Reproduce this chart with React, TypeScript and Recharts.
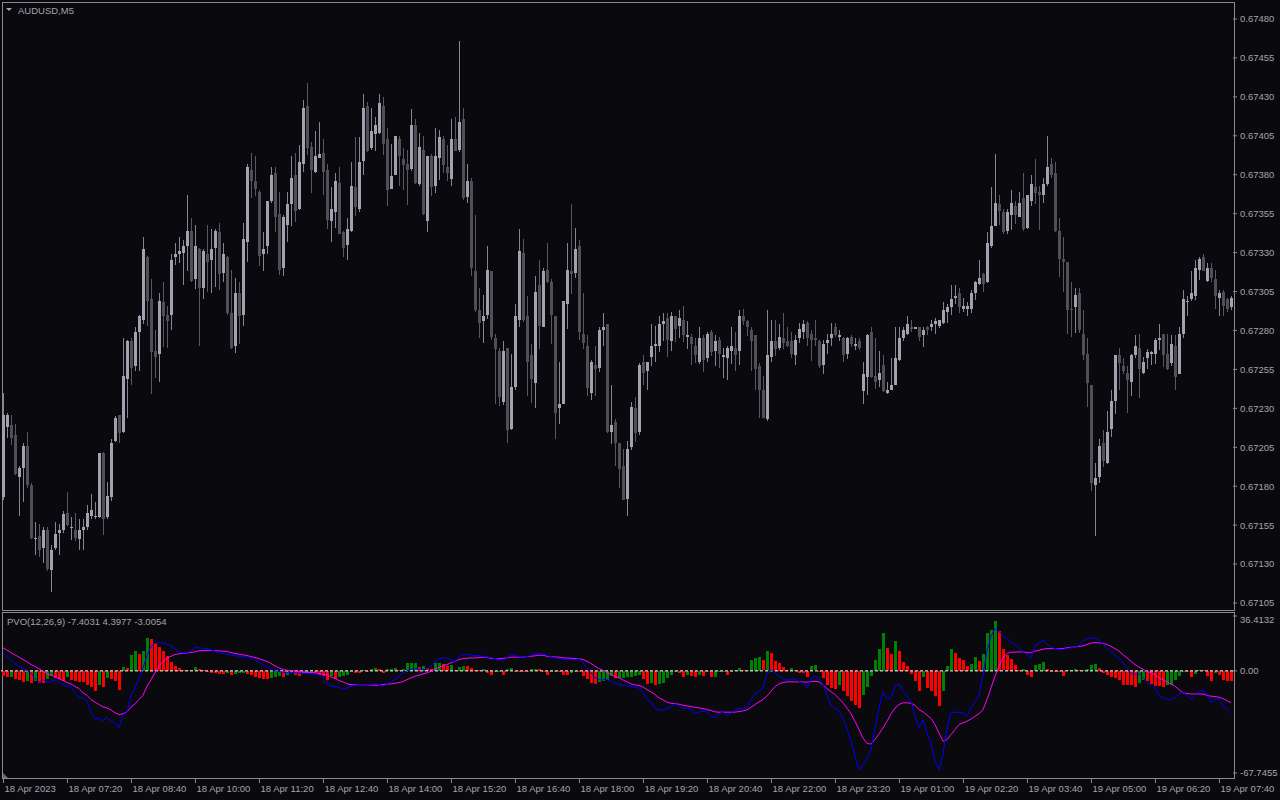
import React from "react";
import { ComposedChart, Bar, Line, XAxis, YAxis, ReferenceLine } from "recharts";

// AUDUSD M5 candles, one entry per bar
const open = [
  0.67173,0.67218,0.67219,0.67213,0.67186,0.67192,0.67206,0.67181,0.67146,0.67148,0.67140,0.67152,0.67126,0.67140,0.67150,0.67152,
  0.67163,0.67153,0.67152,0.67146,0.67152,0.67154,0.67161,0.67160,0.67160,0.67201,0.67160,0.67173,0.67209,0.67226,0.67215,0.67249,
  0.67273,0.67257,0.67279,0.67287,0.67327,0.67300,0.67267,0.67265,0.67298,0.67290,0.67290,0.67327,0.67329,0.67330,0.67334,0.67344,
  0.67313,0.67332,0.67307,0.67329,0.67325,0.67333,0.67343,0.67317,0.67327,0.67291,0.67270,0.67304,0.67290,0.67337,0.67383,0.67376,
  0.67369,0.67329,0.67334,0.67363,0.67381,0.67355,0.67320,0.67348,0.67361,0.67380,0.67358,0.67387,0.67424,0.67398,0.67382,0.67391,
  0.67394,0.67383,0.67350,0.67356,0.67375,0.67343,0.67335,0.67344,0.67372,0.67358,0.67389,0.67424,0.67397,0.67406,0.67407,0.67424,
  0.67403,0.67371,0.67380,0.67403,0.67390,0.67387,0.67384,0.67412,0.67374,0.67396,0.67350,0.67392,0.67373,0.67391,0.67403,0.67385,
  0.67377,0.67403,0.67396,0.67416,0.67366,0.67376,0.67318,0.67293,0.67286,0.67290,0.67318,0.67275,0.67267,0.67234,0.67269,0.67217,
  0.67244,0.67287,0.67330,0.67289,0.67264,0.67246,0.67309,0.67282,0.67319,0.67311,0.67289,0.67230,0.67233,0.67297,0.67318,0.67317,
  0.67334,0.67278,0.67270,0.67240,0.67258,0.67256,0.67280,0.67284,0.67215,0.67221,0.67208,0.67193,0.67172,0.67205,0.67230,0.67215,
  0.67260,0.67254,0.67263,0.67270,0.67270,0.67284,0.67288,0.67273,0.67289,0.67283,0.67287,0.67276,0.67276,0.67270,0.67260,0.67275,
  0.67262,0.67279,0.67267,0.67274,0.67263,0.67262,0.67267,0.67269,0.67267,0.67289,0.67286,0.67280,0.67277,0.67257,0.67242,0.67223,
  0.67263,0.67273,0.67269,0.67275,0.67273,0.67273,0.67264,0.67275,0.67279,0.67285,0.67278,0.67275,0.67273,0.67258,0.67272,0.67275,
  0.67282,0.67276,0.67275,0.67265,0.67276,0.67270,0.67273,0.67241,0.67250,0.67279,0.67251,0.67248,0.67258,0.67240,0.67242,0.67245,
  0.67261,0.67275,0.67278,0.67282,0.67281,0.67282,0.67277,0.67282,0.67282,0.67284,0.67283,0.67285,0.67292,0.67295,0.67301,0.67304,
  0.67294,0.67294,0.67294,0.67304,0.67310,0.67316,0.67311,0.67334,0.67347,0.67361,0.67356,0.67344,0.67354,0.67360,0.67353,0.67365,
  0.67346,0.67363,0.67372,0.67369,0.67367,0.67374,0.67387,0.67381,0.67344,0.67326,0.67324,0.67294,0.67295,0.67304,0.67278,0.67265,
  0.67245,0.67181,0.67186,0.67208,0.67195,0.67217,0.67235,0.67264,0.67257,0.67253,0.67247,0.67264,0.67269,0.67253,0.67262,0.67265,
  0.67265,0.67274,0.67278,0.67265,0.67259,0.67270,0.67252,0.67278,0.67298,0.67300,0.67302,0.67319,0.67327,0.67312,0.67320,0.67313,
  0.67301,0.67305,0.67300,0.67295,
];
const high = [
  0.67240,0.67227,0.67226,0.67220,0.67193,0.67208,0.67215,0.67182,0.67157,0.67156,0.67154,0.67154,0.67142,0.67157,0.67156,0.67164,
  0.67176,0.67160,0.67163,0.67159,0.67159,0.67168,0.67175,0.67170,0.67201,0.67202,0.67183,0.67210,0.67225,0.67226,0.67275,0.67274,
  0.67275,0.67282,0.67290,0.67340,0.67328,0.67313,0.67280,0.67304,0.67311,0.67296,0.67329,0.67336,0.67340,0.67338,0.67367,0.67352,
  0.67348,0.67333,0.67332,0.67348,0.67345,0.67345,0.67349,0.67336,0.67328,0.67319,0.67314,0.67311,0.67349,0.67387,0.67394,0.67392,
  0.67370,0.67343,0.67363,0.67385,0.67385,0.67369,0.67354,0.67369,0.67392,0.67394,0.67399,0.67428,0.67439,0.67401,0.67408,0.67414,
  0.67403,0.67387,0.67372,0.67381,0.67385,0.67344,0.67352,0.67388,0.67404,0.67404,0.67432,0.67427,0.67423,0.67417,0.67432,0.67430,
  0.67410,0.67400,0.67405,0.67405,0.67397,0.67396,0.67422,0.67416,0.67407,0.67405,0.67392,0.67393,0.67410,0.67409,0.67405,0.67399,
  0.67416,0.67417,0.67466,0.67423,0.67387,0.67378,0.67354,0.67307,0.67303,0.67334,0.67318,0.67278,0.67269,0.67273,0.67269,0.67265,
  0.67297,0.67345,0.67339,0.67302,0.67271,0.67315,0.67325,0.67320,0.67336,0.67313,0.67289,0.67260,0.67299,0.67336,0.67361,0.67346,
  0.67338,0.67304,0.67277,0.67261,0.67270,0.67282,0.67291,0.67284,0.67245,0.67223,0.67208,0.67204,0.67209,0.67234,0.67237,0.67259,
  0.67264,0.67260,0.67284,0.67283,0.67289,0.67291,0.67291,0.67292,0.67289,0.67293,0.67296,0.67286,0.67278,0.67275,0.67282,0.67277,
  0.67279,0.67280,0.67277,0.67276,0.67269,0.67270,0.67282,0.67279,0.67293,0.67294,0.67287,0.67282,0.67277,0.67259,0.67251,0.67293,
  0.67287,0.67287,0.67284,0.67291,0.67282,0.67279,0.67277,0.67285,0.67287,0.67286,0.67280,0.67287,0.67274,0.67274,0.67278,0.67285,
  0.67285,0.67280,0.67276,0.67276,0.67277,0.67275,0.67275,0.67260,0.67278,0.67282,0.67275,0.67267,0.67264,0.67247,0.67262,0.67282,
  0.67282,0.67282,0.67289,0.67287,0.67282,0.67282,0.67282,0.67283,0.67287,0.67288,0.67287,0.67298,0.67297,0.67309,0.67309,0.67307,
  0.67301,0.67298,0.67306,0.67312,0.67325,0.67317,0.67343,0.67372,0.67393,0.67367,0.67358,0.67358,0.67370,0.67363,0.67369,0.67381,
  0.67367,0.67380,0.67390,0.67373,0.67378,0.67405,0.67391,0.67388,0.67352,0.67340,0.67324,0.67311,0.67307,0.67307,0.67293,0.67275,
  0.67245,0.67195,0.67210,0.67216,0.67228,0.67242,0.67264,0.67269,0.67262,0.67257,0.67265,0.67277,0.67278,0.67263,0.67268,0.67267,
  0.67275,0.67284,0.67278,0.67278,0.67277,0.67277,0.67282,0.67306,0.67302,0.67318,0.67325,0.67327,0.67329,0.67323,0.67323,0.67319,
  0.67306,0.67306,0.67301,0.67302,
];
const low = [
  0.67171,0.67211,0.67207,0.67187,0.67161,0.67170,0.67179,0.67146,0.67136,0.67135,0.67131,0.67126,0.67112,0.67139,0.67136,0.67150,
  0.67154,0.67145,0.67145,0.67139,0.67139,0.67152,0.67159,0.67159,0.67159,0.67149,0.67159,0.67170,0.67208,0.67208,0.67214,0.67224,
  0.67245,0.67254,0.67254,0.67284,0.67283,0.67239,0.67249,0.67247,0.67269,0.67269,0.67280,0.67322,0.67323,0.67309,0.67318,0.67311,
  0.67307,0.67270,0.67300,0.67305,0.67304,0.67308,0.67306,0.67311,0.67290,0.67268,0.67266,0.67271,0.67283,0.67324,0.67365,0.67366,
  0.67321,0.67318,0.67329,0.67362,0.67343,0.67316,0.67315,0.67337,0.67347,0.67350,0.67357,0.67382,0.67393,0.67368,0.67381,0.67391,
  0.67367,0.67345,0.67337,0.67346,0.67342,0.67327,0.67325,0.67343,0.67353,0.67356,0.67380,0.67395,0.67396,0.67395,0.67406,0.67393,
  0.67360,0.67371,0.67380,0.67373,0.67370,0.67361,0.67382,0.67374,0.67373,0.67354,0.67343,0.67366,0.67368,0.67377,0.67381,0.67376,
  0.67373,0.67395,0.67395,0.67364,0.67362,0.67315,0.67292,0.67275,0.67272,0.67287,0.67274,0.67233,0.67232,0.67232,0.67208,0.67216,
  0.67242,0.67282,0.67286,0.67238,0.67233,0.67230,0.67268,0.67282,0.67310,0.67271,0.67210,0.67220,0.67233,0.67281,0.67303,0.67314,
  0.67274,0.67268,0.67238,0.67235,0.67238,0.67253,0.67270,0.67214,0.67207,0.67193,0.67179,0.67171,0.67161,0.67203,0.67208,0.67213,
  0.67245,0.67242,0.67257,0.67260,0.67266,0.67273,0.67263,0.67267,0.67272,0.67275,0.67273,0.67268,0.67258,0.67259,0.67258,0.67253,
  0.67260,0.67263,0.67257,0.67256,0.67250,0.67248,0.67258,0.67254,0.67258,0.67284,0.67277,0.67254,0.67242,0.67224,0.67224,0.67222,
  0.67260,0.67264,0.67267,0.67268,0.67269,0.67262,0.67258,0.67272,0.67275,0.67270,0.67260,0.67270,0.67256,0.67252,0.67265,0.67270,
  0.67276,0.67273,0.67260,0.67262,0.67269,0.67267,0.67267,0.67233,0.67239,0.67249,0.67242,0.67244,0.67240,0.67239,0.67242,0.67245,
  0.67260,0.67273,0.67277,0.67279,0.67281,0.67273,0.67269,0.67277,0.67280,0.67278,0.67282,0.67284,0.67285,0.67290,0.67297,0.67291,
  0.67292,0.67289,0.67291,0.67300,0.67309,0.67305,0.67310,0.67333,0.67347,0.67348,0.67342,0.67342,0.67344,0.67348,0.67353,0.67344,
  0.67345,0.67360,0.67361,0.67345,0.67362,0.67373,0.67378,0.67343,0.67314,0.67305,0.67278,0.67276,0.67278,0.67278,0.67261,0.67231,
  0.67177,0.67148,0.67182,0.67192,0.67194,0.67212,0.67226,0.67242,0.67252,0.67227,0.67238,0.67262,0.67237,0.67252,0.67255,0.67258,
  0.67258,0.67267,0.67257,0.67255,0.67257,0.67242,0.67252,0.67275,0.67289,0.67299,0.67299,0.67312,0.67318,0.67311,0.67311,0.67294,
  0.67289,0.67289,0.67292,0.67293,
];
const close = [
  0.67226,0.67226,0.67211,0.67188,0.67192,0.67206,0.67181,0.67147,0.67147,0.67139,0.67152,0.67127,0.67139,0.67149,0.67152,0.67162,
  0.67155,0.67154,0.67147,0.67152,0.67154,0.67163,0.67165,0.67161,0.67201,0.67159,0.67174,0.67208,0.67224,0.67214,0.67251,0.67273,
  0.67256,0.67279,0.67289,0.67332,0.67299,0.67266,0.67263,0.67299,0.67289,0.67286,0.67325,0.67329,0.67331,0.67334,0.67344,0.67312,
  0.67334,0.67307,0.67331,0.67324,0.67332,0.67344,0.67316,0.67329,0.67291,0.67269,0.67304,0.67289,0.67339,0.67385,0.67376,0.67371,
  0.67328,0.67332,0.67363,0.67380,0.67353,0.67319,0.67353,0.67361,0.67378,0.67357,0.67388,0.67423,0.67397,0.67383,0.67392,0.67393,
  0.67382,0.67351,0.67358,0.67376,0.67342,0.67333,0.67345,0.67373,0.67359,0.67388,0.67423,0.67395,0.67408,0.67412,0.67426,0.67400,
  0.67370,0.67379,0.67405,0.67392,0.67386,0.67383,0.67412,0.67375,0.67398,0.67355,0.67392,0.67372,0.67392,0.67404,0.67386,0.67381,
  0.67403,0.67395,0.67414,0.67365,0.67376,0.67320,0.67293,0.67285,0.67289,0.67319,0.67276,0.67268,0.67237,0.67267,0.67216,0.67244,
  0.67289,0.67331,0.67287,0.67260,0.67249,0.67305,0.67283,0.67318,0.67311,0.67290,0.67227,0.67233,0.67299,0.67319,0.67316,0.67332,
  0.67279,0.67272,0.67243,0.67260,0.67255,0.67280,0.67282,0.67215,0.67219,0.67208,0.67191,0.67171,0.67204,0.67231,0.67214,0.67258,
  0.67253,0.67260,0.67270,0.67271,0.67284,0.67286,0.67274,0.67289,0.67281,0.67288,0.67277,0.67277,0.67271,0.67264,0.67275,0.67261,
  0.67278,0.67266,0.67273,0.67265,0.67264,0.67269,0.67270,0.67264,0.67289,0.67286,0.67282,0.67273,0.67255,0.67242,0.67224,0.67264,
  0.67273,0.67268,0.67276,0.67272,0.67270,0.67265,0.67274,0.67281,0.67284,0.67275,0.67274,0.67274,0.67257,0.67271,0.67274,0.67278,
  0.67277,0.67277,0.67264,0.67275,0.67271,0.67271,0.67269,0.67252,0.67277,0.67250,0.67247,0.67253,0.67241,0.67242,0.67245,0.67262,
  0.67275,0.67280,0.67284,0.67281,0.67282,0.67276,0.67280,0.67280,0.67284,0.67286,0.67287,0.67293,0.67295,0.67300,0.67302,0.67295,
  0.67296,0.67296,0.67304,0.67311,0.67314,0.67310,0.67336,0.67347,0.67362,0.67357,0.67343,0.67356,0.67362,0.67354,0.67362,0.67345,
  0.67367,0.67374,0.67368,0.67367,0.67374,0.67385,0.67380,0.67344,0.67326,0.67324,0.67293,0.67293,0.67303,0.67280,0.67264,0.67246,
  0.67182,0.67185,0.67206,0.67196,0.67215,0.67235,0.67264,0.67259,0.67254,0.67248,0.67264,0.67270,0.67255,0.67260,0.67266,0.67266,
  0.67274,0.67275,0.67264,0.67255,0.67271,0.67250,0.67278,0.67300,0.67299,0.67304,0.67320,0.67326,0.67318,0.67320,0.67314,0.67302,
  0.67304,0.67296,0.67294,0.67301,
];

// PVO(12,26,9): histogram, main line, signal line
const hist = [
  -3.6,-4.1,-3.8,-5.4,-6.1,-7.2,-6.8,-7.9,-6.9,-7.8,-8.1,-5.4,-3.6,-4.4,-5.3,-6.5,
  -3.8,-5.7,-6.8,-7.2,-7.5,-9.0,-10.4,-13.5,-9.4,-10.8,-4.6,-5.3,-6.4,-12.4,2.4,2.0,
  10.8,13.5,11.4,13.2,22.1,21.3,18.8,15.9,13.3,9.9,6.0,3.3,2.2,0.6,0.9,0.3,
  2.4,1.5,0.8,0.0,-1.1,-1.5,-1.8,-2.2,-1.5,-2.6,-2.2,-1.5,-1.1,-1.8,-2.9,-4.0,
  -4.9,-5.1,-5.3,-4.6,-3.8,-3.5,-4.0,-2.4,-1.5,-2.4,-3.1,-2.0,-1.3,0.7,-1.3,-2.4,
  -3.3,-5.8,-3.5,-5.5,-4.2,-3.5,-2.4,-0.9,-1.0,-1.2,0.6,0.0,1.1,2.2,1.1,-1.1,
  1.0,1.5,1.8,0.9,1.2,5.3,5.4,5.5,2.4,3.1,2.0,1.3,5.3,5.4,4.6,3.5,
  3.8,0.3,2.6,3.5,3.3,2.0,0.9,0.6,1.3,-1.3,-2.4,-0.9,-0.6,-2.4,1.3,2.0,
  0.2,0.0,-0.2,-0.3,1.3,1.4,1.3,-0.7,-2.4,-0.3,0.0,-0.7,-2.4,-2.5,-1.3,-0.2,
  -0.3,-3.1,-5.3,-8.0,-8.6,-7.3,-6.4,-6.0,-3.5,-4.6,-4.5,-4.4,-4.3,-4.0,-3.5,-2.4,
  -5.1,-8.6,-8.0,-9.1,-8.6,-8.0,-4.6,-2.4,-0.3,-1.3,-4.2,-2.4,-3.5,-4.0,-2.4,-3.5,
  -0.4,-4.2,-4.0,-0.9,-0.2,-2.4,-0.3,0.7,2.0,0.7,0.9,7.5,8.6,9.3,6.9,13.5,
  11.9,6.4,5.3,2.4,0.9,2.0,0.4,-1.3,-1.4,-4.2,3.5,3.6,-0.2,-4.6,-9.1,-11.5,
  -11.9,-9.6,-13.5,-16.8,-20.1,-22.3,-24.6,-16.2,-10.8,-3.5,7.5,14.8,25.2,15.3,11.3,19.7,
  13.5,5.8,3.5,-1.8,-6.4,-13.1,-4.2,-11.3,-13.5,-16.8,-23.0,-13.5,3.5,14.2,11.9,8.6,
  7.5,3.1,4.6,9.1,6.4,11.3,25.2,27.4,33.4,26.3,14.2,10.8,8.0,4.2,0.9,1.1,
  -2.4,-4.0,4.2,4.3,5.8,1.3,0.2,-0.2,-0.3,-3.1,0.4,0.7,1.3,0.7,0.8,1.3,
  4.2,4.3,2.0,-1.3,-2.4,-4.2,-4.6,-5.8,-9.1,-9.2,-9.3,-10.4,-8.0,-5.8,-6.9,-8.6,
  -9.7,-10.0,-10.6,-9.1,-9.0,-5.8,-3.1,-0.2,-0.9,-4.2,-1.8,0.9,0.8,-3.5,-6.9,-1.3,
  -2.4,-5.8,-6.4,-6.9,
];
const pvo = [
  11.9,9.5,7.3,4.6,2.9,1.5,0.2,-1.5,-5.1,-7.7,-5.8,-7.3,-7.3,-5.8,-7.3,-9.5,
  -10.0,-10.8,-14.6,-17.3,-17.9,-20.1,-26.8,-31.6,-31.6,-33.0,-30.8,-33.0,-34.5,-37.8,-29.4,-27.2,
  -16.2,-11.3,-5.1,2.0,10.2,16.4,18.4,18.8,18.8,17.5,16.6,14.8,12.6,11.9,12.2,13.1,
  15.7,15.3,15.0,14.8,13.9,13.1,12.2,11.5,11.1,10.6,10.2,9.7,9.5,9.3,8.4,7.3,
  5.8,4.2,2.4,0.9,0.0,-0.4,-0.9,-1.3,-1.3,-1.3,-1.5,-1.8,-1.8,-2.0,-2.0,-2.7,
  -3.5,-8.2,-10.2,-10.4,-10.8,-12.2,-11.3,-10.4,-9.7,-9.7,-9.7,-9.5,-9.3,-8.2,-9.5,-10.4,
  -8.6,-7.3,-5.5,-3.5,-1.5,0.2,1.1,1.5,1.1,0.7,1.3,3.1,6.4,8.0,8.6,8.4,
  7.3,5.8,9.5,10.8,10.8,10.6,10.2,10.0,9.7,9.3,8.8,8.2,7.7,6.9,8.6,10.8,
  10.4,9.3,9.1,9.5,10.4,11.3,11.5,11.1,10.4,9.3,8.6,8.0,7.5,7.5,7.5,7.5,
  8.2,5.3,2.0,-1.3,-4.6,-5.8,-5.8,-5.8,-6.9,-8.6,-9.1,-9.5,-10.0,-10.4,-10.8,-11.3,
  -14.6,-19.0,-20.8,-24.6,-25.9,-26.1,-25.0,-23.7,-21.9,-23.5,-25.0,-24.6,-25.7,-27.9,-27.2,-26.8,
  -27.2,-30.3,-30.8,-28.5,-27.2,-29.9,-28.1,-25.9,-24.6,-25.0,-24.6,-19.0,-15.3,-13.1,-11.3,-2.0,
  0.7,-1.3,-3.5,-5.1,-6.2,-5.5,-5.3,-6.9,-8.2,-11.3,-5.1,-3.5,-5.1,-9.1,-16.2,-22.5,
  -24.6,-26.8,-31.2,-38.3,-46.7,-56.6,-65.5,-62.2,-58.8,-52.2,-37.8,-24.6,-13.9,-18.4,-17.9,-10.2,
  -8.6,-13.5,-16.8,-20.1,-30.1,-37.8,-32.3,-41.2,-47.8,-60.0,-65.5,-55.5,-37.8,-27.9,-27.4,-27.4,
  -27.9,-30.1,-24.6,-20.6,-16.2,-2.4,13.1,23.0,28.1,26.3,23.0,21.5,19.2,17.5,14.8,12.6,
  10.8,8.6,16.4,18.6,20.1,17.9,15.7,14.8,14.4,14.2,14.8,15.3,15.9,16.8,19.7,21.5,
  21.9,21.5,20.1,17.9,14.8,12.6,10.4,8.2,5.8,2.0,-1.8,-2.4,-1.8,-4.6,-7.3,-9.1,
  -11.3,-16.2,-17.9,-18.8,-19.2,-17.9,-15.3,-13.9,-16.2,-19.0,-16.2,-13.5,-13.1,-14.8,-21.2,-19.0,
  -18.4,-23.5,-25.2,-27.9,
];
const signal = [
  15.3,13.7,12.2,10.6,9.1,7.5,6.0,4.2,2.9,1.3,-0.2,-1.8,-2.9,-4.0,-5.3,-6.4,
  -7.7,-8.6,-10.4,-11.7,-14.6,-16.2,-19.0,-20.8,-22.3,-23.9,-24.6,-25.9,-27.7,-29.0,-28.5,-27.2,
  -23.9,-21.9,-19.0,-16.2,-10.2,-5.8,-1.3,3.1,6.4,8.6,9.7,10.8,11.3,11.7,11.9,12.2,
  12.6,13.3,13.5,13.5,13.5,13.5,13.3,13.1,12.8,12.2,11.5,11.1,10.6,10.2,9.5,8.8,
  8.2,7.1,6.4,4.9,3.3,2.0,0.9,0.4,0.2,0.0,-0.2,-0.7,-0.9,-1.1,-1.3,-1.8,
  -2.2,-2.7,-4.0,-4.9,-6.4,-7.3,-8.6,-9.1,-9.3,-9.5,-9.5,-9.5,-9.5,-9.5,-9.5,-9.1,
  -8.8,-8.6,-8.2,-7.7,-7.1,-5.8,-4.6,-3.5,-2.9,-2.0,-1.3,-0.2,1.1,2.4,3.3,4.2,
  5.3,6.4,7.5,8.2,8.4,8.6,8.6,8.8,9.1,9.1,8.2,8.2,8.2,8.2,8.6,9.1,
  9.1,9.1,9.1,9.5,9.7,10.0,10.4,10.4,9.7,9.3,9.3,9.1,8.6,8.6,8.4,8.2,
  8.2,7.5,6.4,4.9,3.1,1.5,0.4,-1.1,-2.4,-3.8,-4.6,-6.0,-7.3,-8.6,-9.3,-9.7,
  -10.6,-12.4,-13.9,-15.7,-17.9,-19.2,-20.8,-21.5,-21.7,-22.1,-22.8,-23.2,-23.7,-24.1,-24.6,-25.0,
  -25.7,-26.3,-27.2,-27.4,-27.4,-27.4,-27.4,-27.4,-27.0,-26.5,-25.9,-24.1,-22.3,-20.6,-19.0,-16.8,
  -13.5,-10.4,-8.6,-7.7,-7.3,-7.3,-7.3,-7.3,-7.3,-7.5,-7.1,-6.9,-7.3,-9.5,-11.7,-13.8,
  -15.7,-18.4,-21.2,-24.6,-28.5,-33.4,-38.9,-44.5,-48.2,-48.5,-45.6,-41.8,-37.8,-33.4,-28.5,-24.6,
  -22.3,-21.2,-21.2,-21.5,-22.8,-25.7,-27.2,-29.4,-31.6,-35.6,-41.2,-46.7,-45.6,-42.3,-38.9,-35.6,
  -34.5,-33.4,-31.9,-30.1,-28.5,-25.7,-19.0,-11.3,-3.5,3.1,8.6,11.5,12.4,12.4,12.6,12.6,
  12.2,11.9,13.1,13.7,14.4,14.8,14.8,14.8,14.8,14.8,15.3,15.7,15.9,16.2,16.6,17.5,
  18.4,18.8,18.6,18.1,17.5,16.2,14.8,13.1,10.8,8.6,6.4,4.2,2.4,1.1,-0.2,-1.3,
  -2.4,-4.6,-5.8,-7.3,-8.6,-10.2,-12.4,-14.6,-15.0,-15.3,-15.3,-15.3,-15.3,-16.2,-16.8,-17.0,
  -17.5,-18.4,-19.7,-21.2,
];

// one time label every 16 bars
const timeLabels = [
  "18 Apr 2023", "18 Apr 07:20", "18 Apr 08:40", "18 Apr 10:00", "18 Apr 11:20",
  "18 Apr 12:40", "18 Apr 14:00", "18 Apr 15:20", "18 Apr 16:40", "18 Apr 18:00",
  "18 Apr 19:20", "18 Apr 20:40", "18 Apr 22:00", "18 Apr 23:20", "19 Apr 01:00",
  "19 Apr 02:20", "19 Apr 03:40", "19 Apr 05:00", "19 Apr 06:20", "19 Apr 07:40",
];
const priceTicks = [
  0.6748, 0.67455, 0.6743, 0.67405, 0.6738, 0.67355, 0.6733, 0.67305,
  0.6728, 0.67255, 0.6723, 0.67205, 0.6718, 0.67155, 0.6713, 0.67105,
];
const pvoTicks = [36.4132, 0, -67.7455];

const BG = "#0a0a0e";
const FRAME = "#8a8a8e";
const TXT = "#a4a4ac";
const FONT = '"Liberation Sans", Arial, sans-serif';
const FS = 9.5;
const BULL_BODY = "#a2a2ae";
const BULL_WICK = "#85858f";
const BEAR_BODY = "#4f4f55";
const BEAR_WICK = "#58585e";
const H_UP = "#008000";
const H_DN = "#ff0000";

const candles = open.map((o, i) => ({
  i,
  o,
  c: close[i],
  h: high[i],
  l: low[i],
  range: [low[i], high[i]],
}));

const pvoRows = hist.map((v, i) => ({
  i,
  hist: v,
  pvo: pvo[i],
  signal: signal[i],
  col: i > 0 && v > hist[i - 1] ? H_UP : H_DN,
}));

const timeTicks = timeLabels.map((_, k) => k * 16);

// candle drawn inside the [low, high] bar rect
const Candle = (props: any) => {
  const { x, y, width, height, payload } = props;
  if (x == null || !payload) return null;
  const top = Math.min(y, y + height);
  const full = Math.abs(height);
  const { o, c, h, l } = payload;
  const k = h > l ? full / (h - l) : 0;
  const py = (v: number) => top + (h - v) * k;
  const bull = c >= o;
  const cx = Math.floor(x + width / 2);
  const bTop = Math.round(py(Math.max(o, c)));
  const bBot = Math.round(py(Math.min(o, c)));
  return (
    <g>
      <rect x={cx} y={Math.round(top)} width={1} height={Math.max(1, Math.round(full))} fill={bull ? BULL_WICK : BEAR_WICK} />
      <rect x={cx - 1} y={bTop} width={3} height={Math.max(1, bBot - bTop)} fill={bull ? BULL_BODY : BEAR_BODY} />
    </g>
  );
};

const HistBar = (props: any) => {
  const { x, y, width, height, payload } = props;
  if (x == null || !payload) return null;
  const cx = Math.floor(x + width / 2);
  const top = Math.round(Math.min(y, y + height));
  const h = Math.max(1, Math.round(Math.abs(height)));
  return <rect x={cx - 1} y={top} width={3} height={h} fill={payload.col} />;
};

const TimeTick = (props: any) => {
  const { x, y, payload } = props;
  const label = timeLabels[Math.round(payload.value / 16)];
  const tx = Math.floor(x) + 0.5;
  return (
    <g>
      <line x1={tx} x2={tx} y1={y + 6} y2={y + 10} stroke={FRAME} />
      <text x={tx + 1} y={y + 18.5} fill={TXT} fontSize={FS} fontFamily={FONT}>
        {label}
      </text>
    </g>
  );
};

const PvoTick = (props: any) => {
  const { x, y, payload } = props;
  const v = payload.value;
  const txt = v === 0 ? "0.00" : v.toFixed(4);
  return (
    <text x={x} y={y + (v > 0 ? 4 : 0)} dy="0.355em" fill={TXT} fontSize={FS} fontFamily={FONT}>
      {txt}
    </text>
  );
};

export default function App() {
  return (
    <div style={{ position: "fixed", left: 0, top: 0, width: 1280, height: 800, background: BG, overflow: "hidden" }}>
      <svg width={1280} height={800} style={{ position: "absolute", left: 0, top: 0 }}>
        <rect x={2.5} y={2.5} width={1232} height={608} fill="none" stroke={FRAME} />
        <rect x={2.5} y={612.5} width={1232} height={166} fill="none" stroke={FRAME} />
        <polygon points="6,8 12,8 9,11" fill={TXT} />
        <text x={18} y={13.5} fill={TXT} fontSize={FS} fontFamily={FONT}>AUDUSD,M5</text>
        <text x={7} y={624.5} fill={TXT} fontSize={FS} fontFamily={FONT}>
          PVO(12,26,9) -7.4031 4.3977 -3.0054
        </text>
        <polygon points="3,773 3,778 8,778" fill="#6a6a70" />
      </svg>

      <div style={{ position: "absolute", left: 0, top: 0 }}>
        <ComposedChart
          width={1280}
          height={612}
          data={candles}
          margin={{ top: 3, right: 1, bottom: 3, left: 1 }}
          barCategoryGap={0}
          barGap={0}
        >
          <XAxis dataKey="i" type="category" hide />
          <YAxis
            orientation="right"
            type="number"
            width={46}
            domain={[0.6710115, 0.6749027]}
            allowDataOverflow
            ticks={priceTicks}
            interval={0}
            tickFormatter={(v: number) => v.toFixed(5)}
            tick={{ fill: TXT, fontSize: FS, fontFamily: FONT }}
            tickLine={{ stroke: FRAME }}
            tickSize={4}
            tickMargin={3}
            axisLine={false}
          />
          <Bar dataKey="range" shape={(p: any) => <Candle {...p} />} isAnimationActive={false} />
        </ComposedChart>
      </div>

      <div style={{ position: "absolute", left: 0, top: 612 }}>
        <ComposedChart
          width={1280}
          height={188}
          data={pvoRows}
          margin={{ top: 4, right: 1, bottom: 0, left: 1 }}
          barCategoryGap={0}
          barGap={0}
        >
          <XAxis
            dataKey="i"
            type="category"
            ticks={timeTicks}
            interval={0}
            height={27}
            axisLine={false}
            tickLine={false}
            tickSize={0}
            tickMargin={0}
            tick={(p: any) => <TimeTick {...p} />}
          />
          <YAxis
            orientation="right"
            type="number"
            width={46}
            domain={[-67.7455, 36.4132]}
            allowDataOverflow
            ticks={pvoTicks}
            interval={0}
            tick={(p: any) => <PvoTick {...p} />}
            tickLine={{ stroke: FRAME }}
            tickSize={4}
            tickMargin={3}
            axisLine={false}
          />
          <Bar dataKey="hist" shape={(p: any) => <HistBar {...p} />} isAnimationActive={false} />
          <ReferenceLine y={0} stroke="#ffffff" strokeDasharray="3 2" />
          <Line type="linear" dataKey="signal" stroke="#ff00ff" strokeWidth={1} dot={false} isAnimationActive={false} />
          <Line type="linear" dataKey="pvo" stroke="#0000ff" strokeWidth={1} dot={false} isAnimationActive={false} />
        </ComposedChart>
      </div>
    </div>
  );
}
